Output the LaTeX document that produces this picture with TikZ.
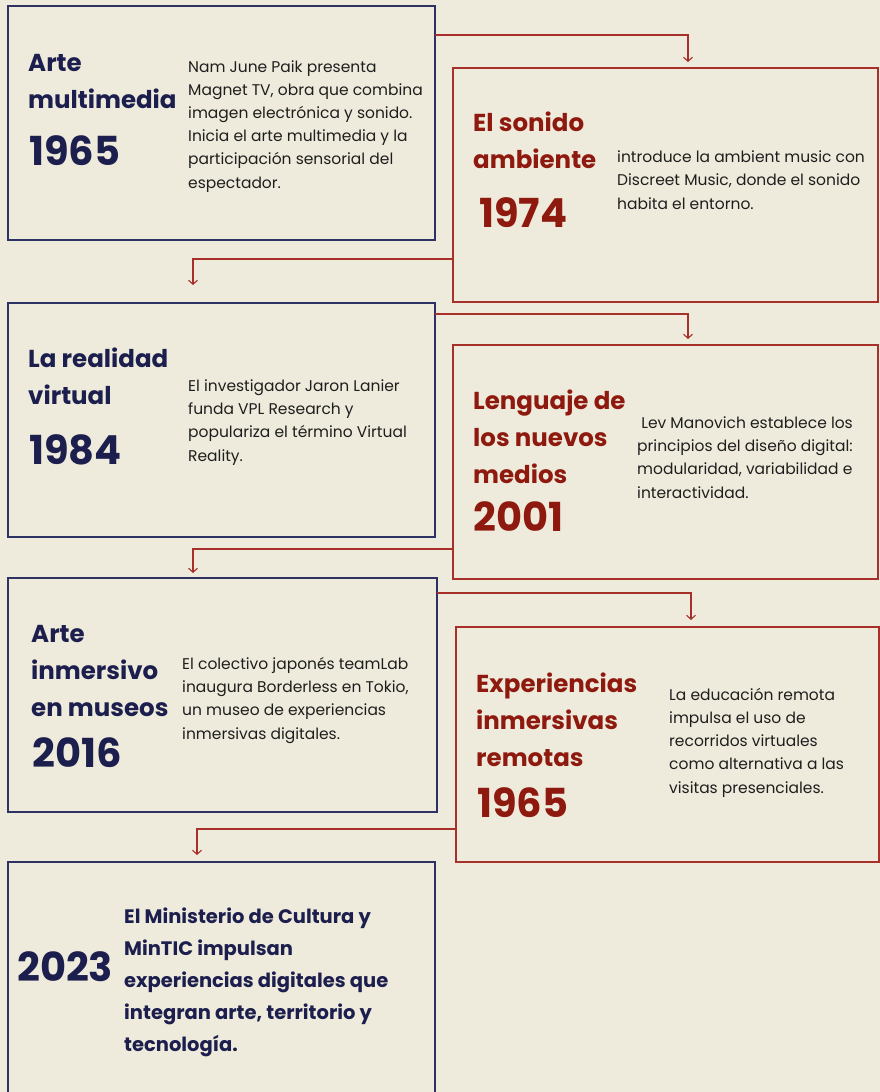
\documentclass[tikz,border=0pt]{standalone}
\usepackage{fontspec}
\setmainfont{Poppins}
\usetikzlibrary{arrows.meta}
\definecolor{paper}{HTML}{EFEBDC}
\definecolor{navy}{HTML}{1C1F4E}
\definecolor{navyline}{HTML}{2E3262}
\definecolor{wine}{HTML}{8E1A0F}
\definecolor{wineline}{HTML}{A8302A}
\definecolor{ink}{HTML}{1E1E1E}
\tikzset{
    navybox/.style={draw=navyline,line width=1.2pt,inner sep=0pt,outer sep=0pt,anchor=north west},
    winebox/.style={draw=wineline,line width=1.2pt,inner sep=0pt,outer sep=0pt,anchor=north west},
    title/.style={anchor=base west,inner sep=0pt,align=left,font=\fontsize{24.5}{37}\selectfont\bfseries},
    year/.style={anchor=base west,inner sep=0pt,font=\fontsize{40}{40}\selectfont\bfseries},
    desc/.style={anchor=base west,inner sep=0pt,align=left,text=ink,font=\fontsize{15.5}{23.2}\selectfont},
    link/.style={draw=wineline,line width=1.1pt,-{Straight Barb[length=4pt,width=9pt]}}
}
\begin{document}
\begin{tikzpicture}[x=1pt,y=-1pt]
\fill[paper] (0,0) rectangle (880,1092);
\useasboundingbox (0,0) rectangle (880,1092);
% boxes
\node[navybox,minimum width=427pt,minimum height=234pt] (b1) at (8,6) {};
\node[winebox,minimum width=425pt,minimum height=234pt] (b2) at (453,68) {};
\node[navybox,minimum width=427pt,minimum height=234pt] (b3) at (8,303) {};
\node[winebox,minimum width=425pt,minimum height=234pt] (b4) at (453,345) {};
\node[navybox,minimum width=429pt,minimum height=234pt] (b5) at (8,578) {};
\node[winebox,minimum width=423pt,minimum height=235pt] (b6) at (456,627) {};
\node[navybox,minimum width=427pt,minimum height=250pt] (b7) at (8,862) {};
% 1965 (text nodes sit on their last line)
\node[title,text=navy] (t1) at (28,108) {Arte\\multimedia};
\node[year,text=navy] (y1) at (29,165) {1965};
\node[desc] (d1) at (188,188) {Nam June Paik presenta\\Magnet TV, obra que combina\\imagen electrónica y sonido.\\Inicia el arte multimedia y la\\participación sensorial del\\espectador.};
% 1974
\node[title,text=wine] (t2) at (473,168) {El sonido\\ambiente};
\node[year,text=wine] (y2) at (479,227) {1974};
\node[desc] (d2) at (617,209) {introduce la ambient music con\\Discreet Music, donde el sonido\\habita el entorno.};
% 1984
\node[title,text=navy] (t3) at (28,404) {La realidad\\virtual};
\node[year,text=navy] (y3) at (29,464) {1984};
\node[desc] (d3) at (188,461) {El investigador Jaron Lanier\\funda VPL Research y\\populariza el término Virtual\\Reality.};
% 2001
\node[title,text=wine] (t4) at (473,483) {Lenguaje de\\los nuevos\\medios};
\node[year,text=wine] (y4) at (473,531) {2001};
\node[desc] (d4) at (637,498) {\ Lev Manovich establece los\\principios del diseño digital:\\modularidad, variabilidad e\\interactividad.};
% 2016
\node[title,text=navy] (t5) at (31,716) {Arte\\inmersivo\\en museos};
\node[year,text=navy] (y5) at (32,767) {2016};
\node[desc] (d5) at (182,739) {El colectivo japonés teamLab\\inaugura Borderless en Tokio,\\un museo de experiencias\\inmersivas digitales.};
% remotas
\node[title,text=wine] (t6) at (476,766) {Experiencias\\inmersivas\\remotas};
\node[year,text=wine] (y6) at (477,817) {1965};
\node[desc] (d6) at (669,793) {La educación remota\\impulsa el uso de\\recorridos virtuales\\como alternativa a las\\visitas presenciales.};
% 2023
\node[year,text=navy] (y7) at (17,981) {2023};
\node[anchor=base west,inner sep=0pt,align=left,text=navy,font=\fontsize{19.5}{32}\selectfont\bfseries] (d7) at (124,1051) {El Ministerio de Cultura y\\MinTIC impulsan\\experiencias digitales que\\integran arte, territorio y\\tecnología.};
% connectors
\draw[link] ([yshift=-29pt]b1.north east) -| ([xshift=22.5pt,yshift=6pt]b2.north);
\draw[link] ([yshift=43pt]b2.south west) -| ([xshift=-28.5pt,yshift=18pt]b3.north);
\draw[link] ([yshift=-11pt]b3.north east) -| ([xshift=22.5pt,yshift=6pt]b4.north);
\draw[link] ([yshift=30pt]b4.south west) -| ([xshift=-29.5pt,yshift=5pt]b5.north);
\draw[link] ([yshift=-15pt]b5.north east) -| ([xshift=23.5pt,yshift=7pt]b6.north);
\draw[link] ([yshift=33pt]b6.south west) -| ([xshift=-24.5pt,yshift=7pt]b7.north);
\end{tikzpicture}
\end{document}
